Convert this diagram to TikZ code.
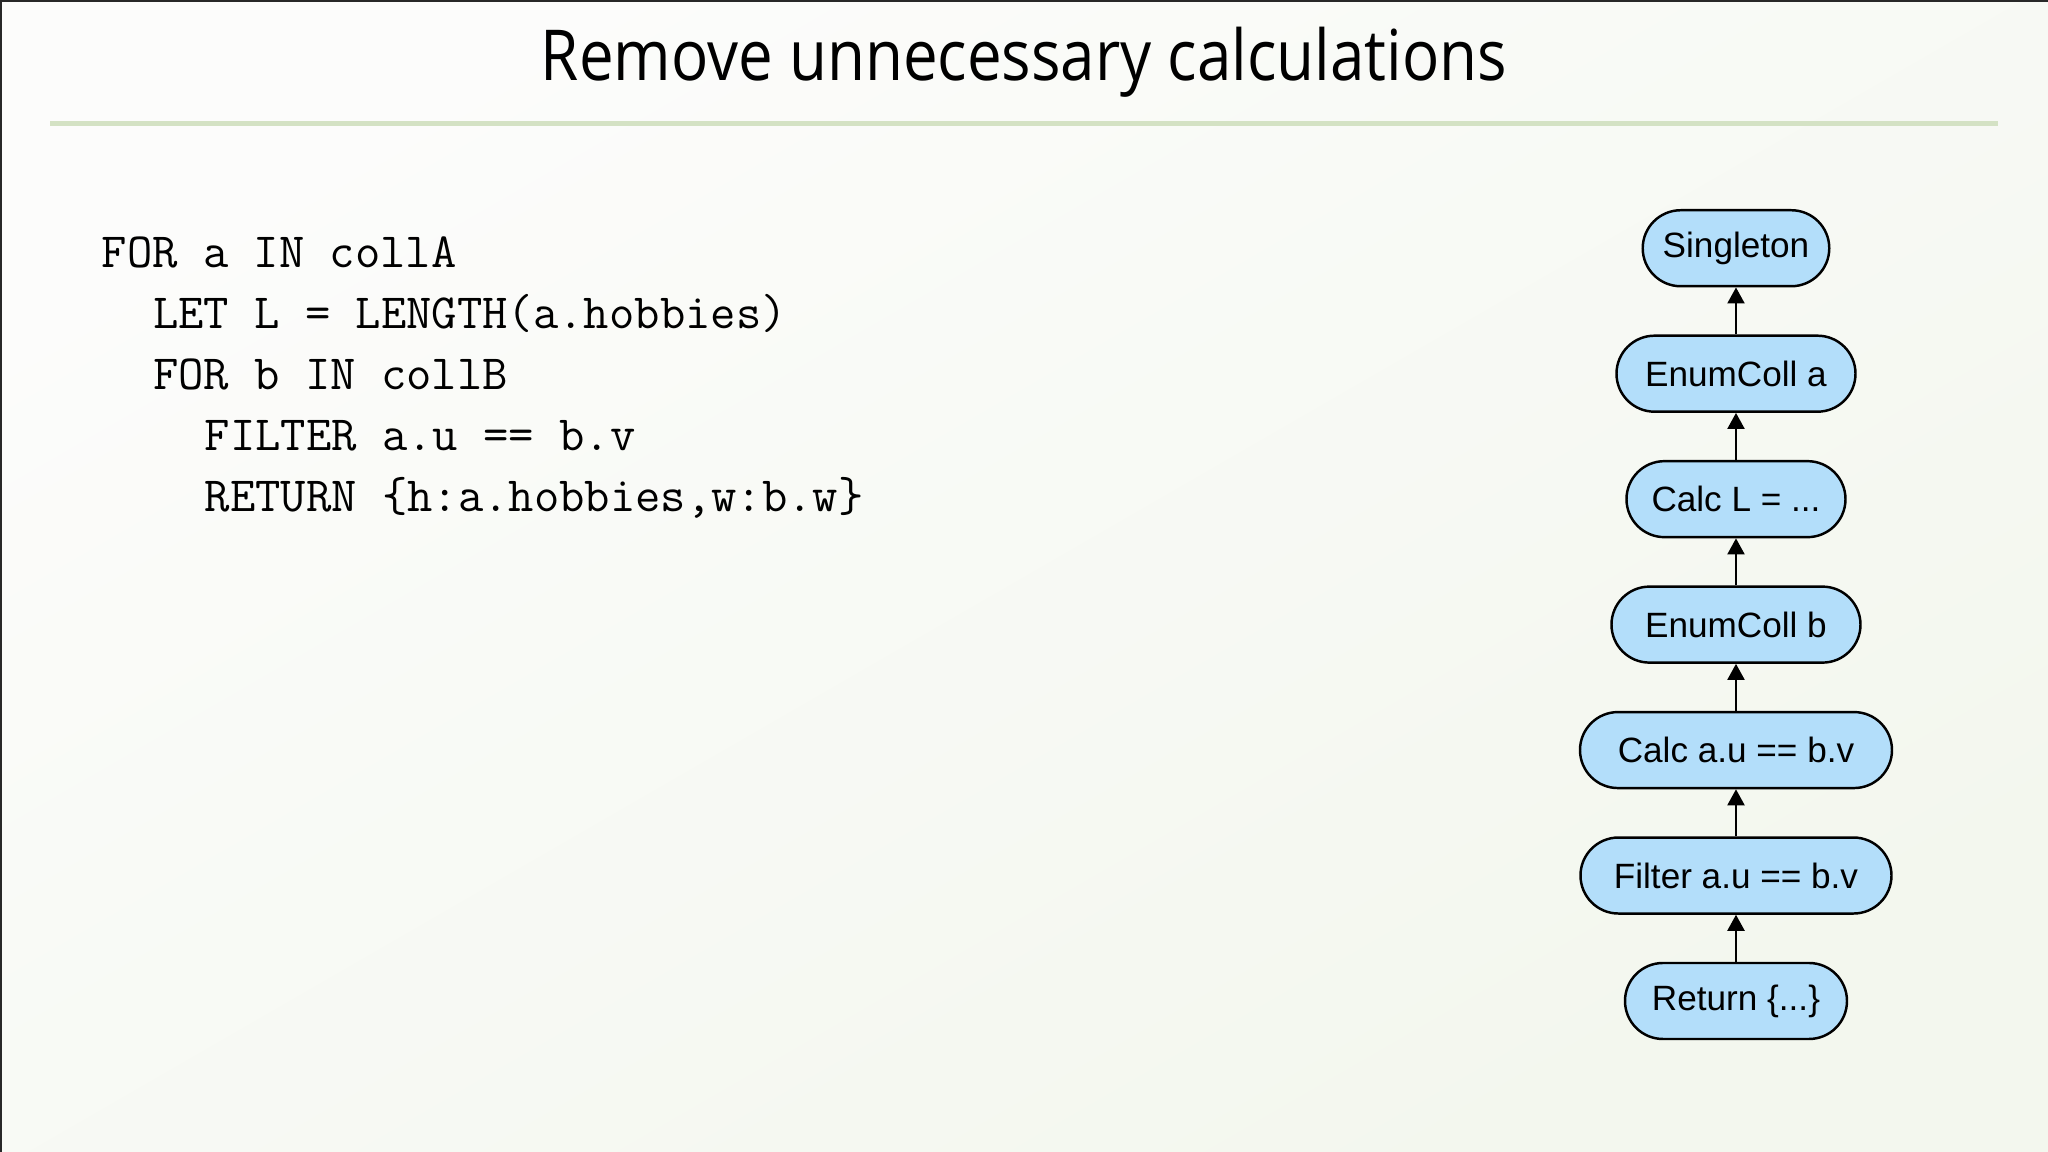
\documentclass[tikz,border=0pt]{standalone}
\usepackage{fontspec}
\usepackage{tikz}
\usetikzlibrary{positioning, arrows.meta}
\newfontfamily\titlefont[FakeStretch=0.88]{Open Sans}
\newfontfamily\opfont{Liberation Sans}
\definecolor{bgtop}{RGB}{252,252,251}
\definecolor{bgbot}{RGB}{243,247,238}
\definecolor{bargreen}{RGB}{212,226,196}
\definecolor{opblue}{RGB}{179,222,250}
\definecolor{framegray}{RGB}{40,40,40}

\begin{document}
\begin{tikzpicture}[
    op/.style={rectangle, rounded corners=0.38cm, draw=black, line width=0.7pt, fill=opblue,
        minimum height=0.76cm, inner xsep=0.2cm, font=\opfont\fontsize{10}{12}\selectfont},
    flow/.style={line width=0.6pt, -{Triangle[width=0.17cm, length=0.16cm]}},
    code/.style={anchor=base west, inner sep=0pt, font=\ttfamily\fontsize{14}{16}\selectfont},
    node distance=0.47cm
]
    \useasboundingbox (0,0) rectangle (20.48,-11.52);
    \shade[top color=bgtop, bottom color=bgbot, shading angle=30] (0,0) rectangle (20.48,-11.52);
    \draw[framegray, line width=0.04cm] (0,-11.52) -- (0,0) -- (20.48,0);

    % title and rule
    \node[anchor=base, inner sep=0pt, font=\titlefont\fontsize{20}{24}\selectfont] (title) at (10.24,-0.81) {Remove unnecessary calculations};
    \draw[bargreen, line width=0.05cm] (0.50,-1.24) -- (19.98,-1.24);

    % query
    \node[code] (l1) at (1.01,-2.68) {FOR a IN collA};
    \node[code] (l2) at (1.525,-3.29) {LET L = LENGTH(a.hobbies)};
    \node[code] (l3) at (1.525,-3.90) {FOR b IN collB};
    \node[code] (l4) at (2.04,-4.51) {FILTER a.u == b.v};
    \node[code] (l5) at (2.04,-5.12) {RETURN \{h:a.hobbies,w:b.w\}};

    % execution plan
    \node[op, anchor=north, minimum width=1.79cm] (single) at (17.36,-2.09) {Singleton};
    \node[op, below=of single, minimum width=2.39cm] (enuma) {EnumColl a};
    \node[op, below=of enuma, minimum width=2.19cm] (calcl) {Calc L = ...};
    \node[op, below=of calcl, minimum width=2.49cm] (enumb) {EnumColl b};
    \node[op, below=of enumb, minimum width=3.12cm] (calcuv) {Calc a.u == b.v};
    \node[op, below=of calcuv, minimum width=3.11cm] (filter) {Filter a.u == b.v};
    \node[op, below=of filter, minimum width=2.22cm] (ret) {Return \{...\}};

    \draw[flow]
        (enuma) edge (single)
        (calcl) edge (enuma)
        (enumb) edge (calcl)
        (calcuv) edge (enumb)
        (filter) edge (calcuv)
        (ret) edge (filter)
        ;
\end{tikzpicture}
\end{document}
